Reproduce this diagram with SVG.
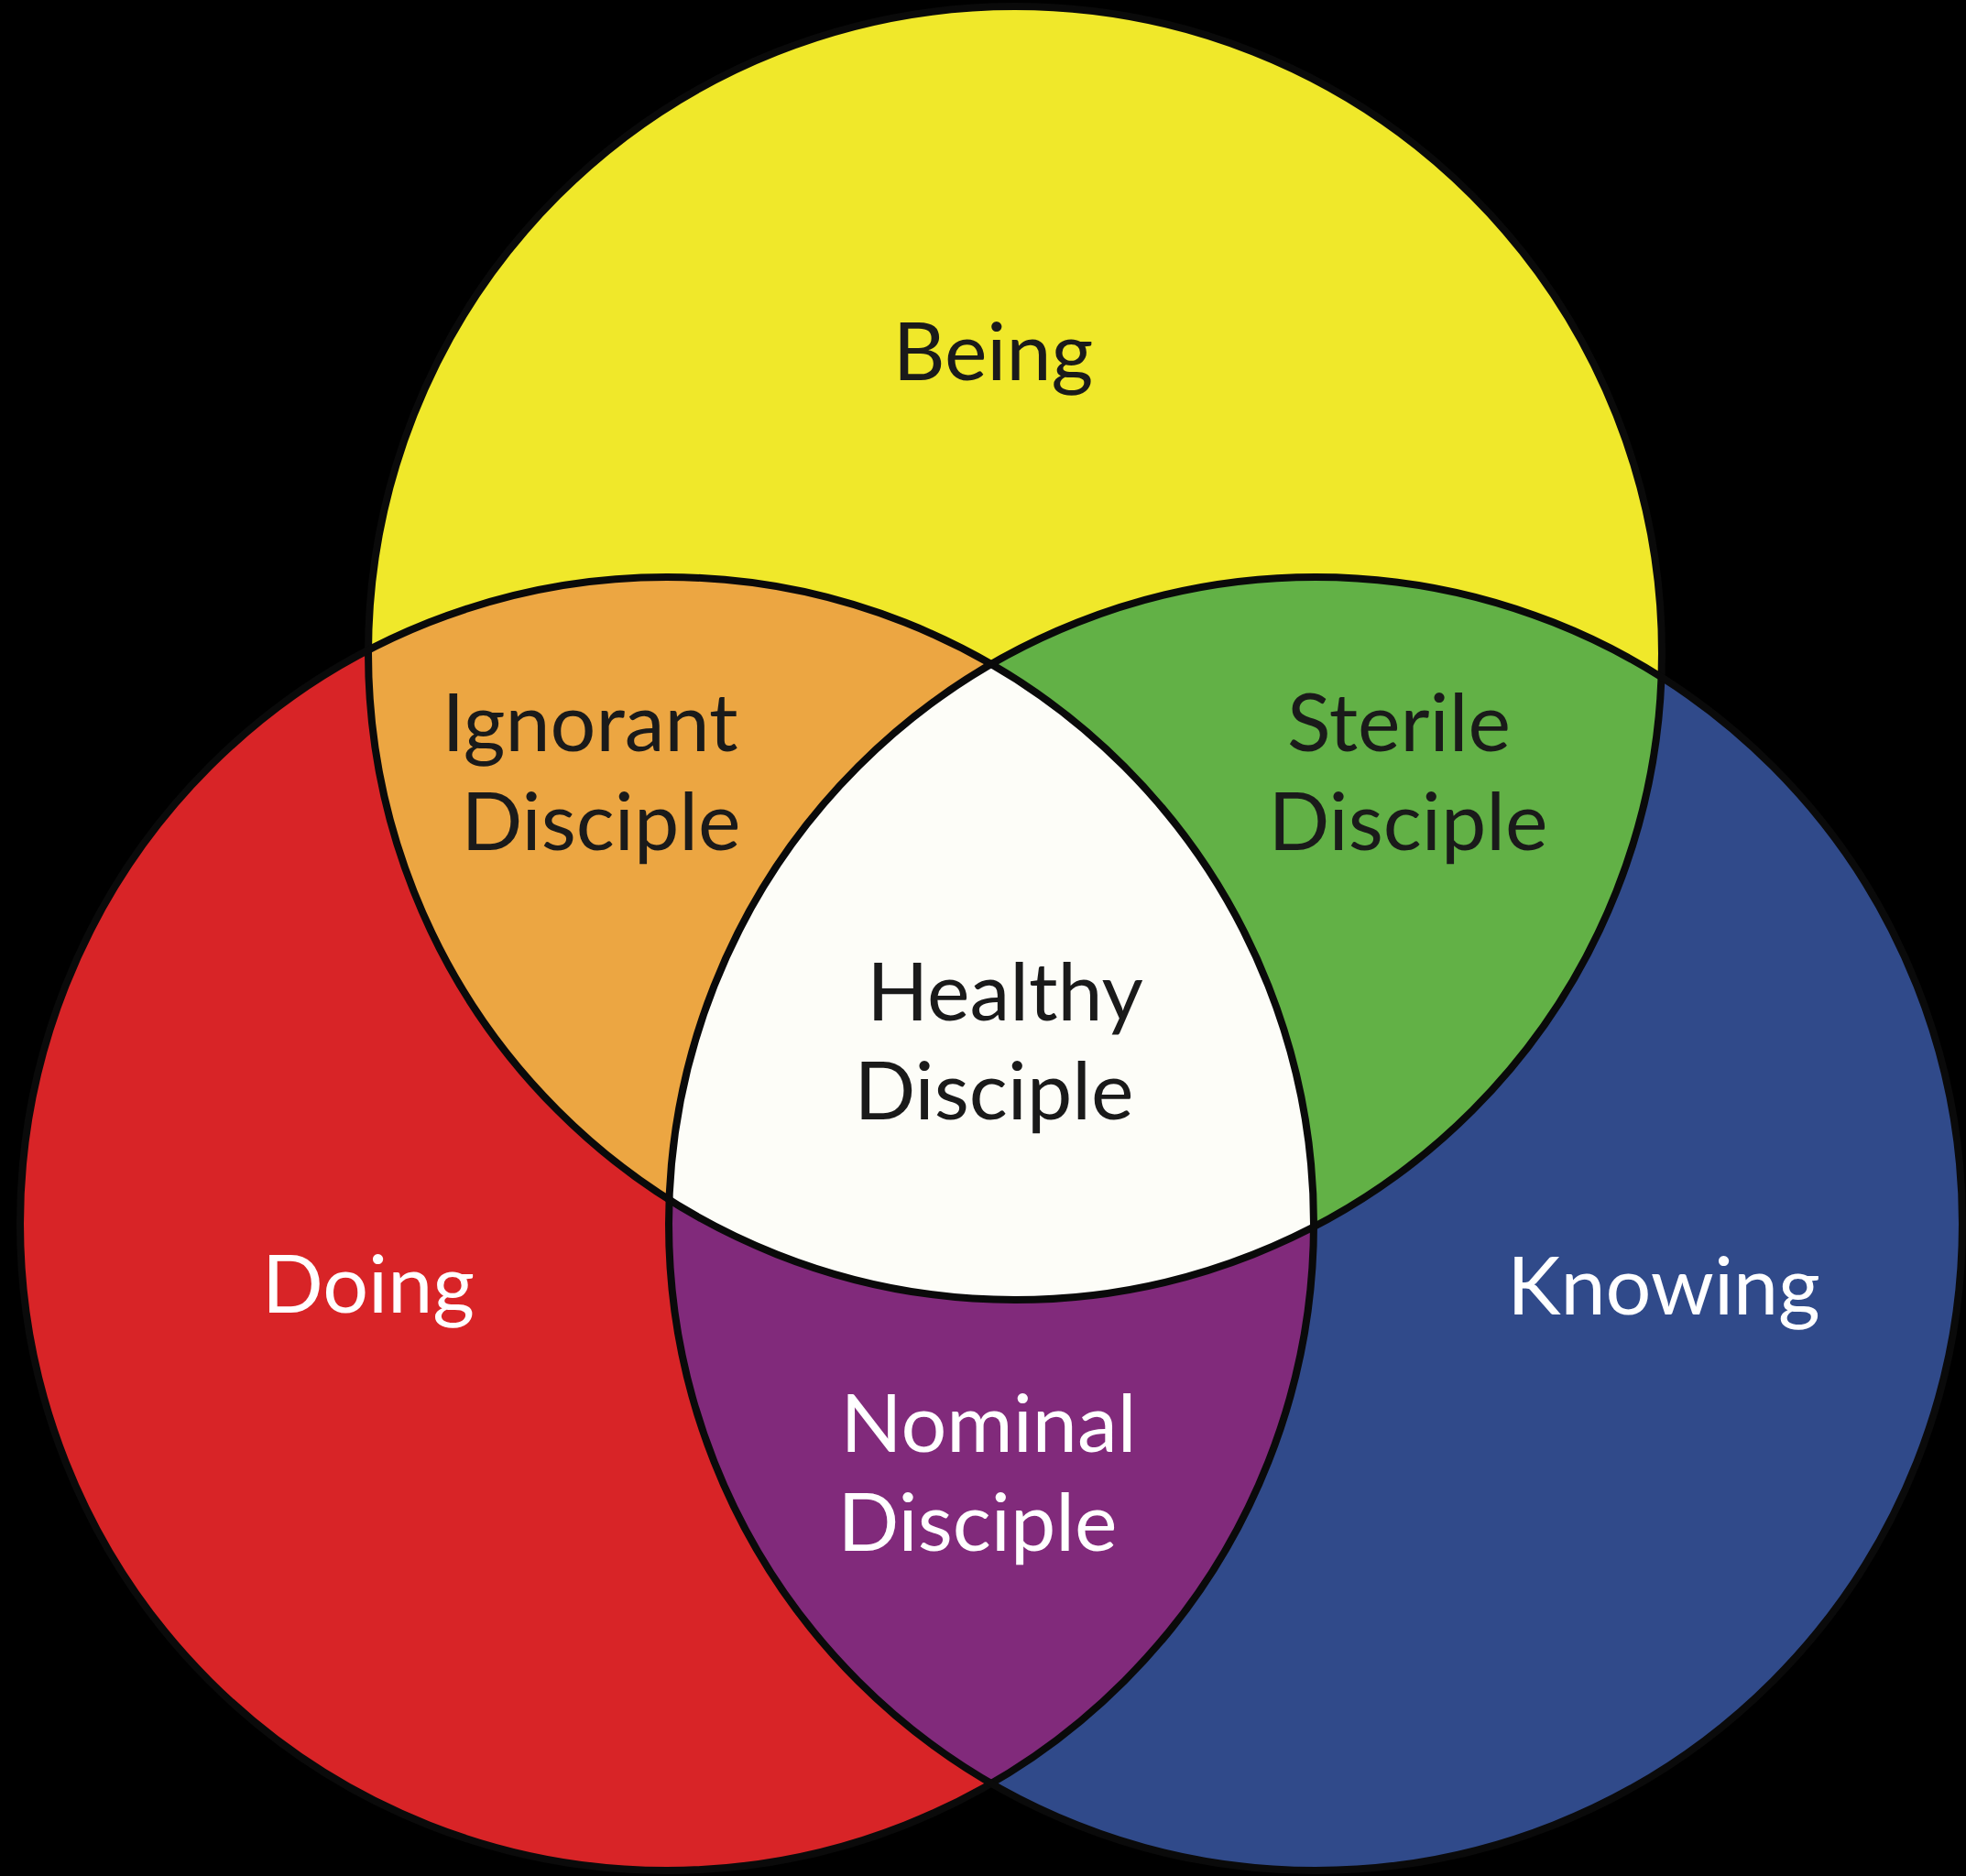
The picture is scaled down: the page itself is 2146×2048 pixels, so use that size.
<svg xmlns="http://www.w3.org/2000/svg" width="2146" height="2048" viewBox="0 0 2146 2048">
  <style>
    .lbl { font-family: Lato, "Open Sans", "Liberation Sans", sans-serif; font-size: 88px; text-anchor: middle; }
    .dark { fill: #1a1a1a; }
    .light { fill: #ffffff; }
    .ring { fill: none; stroke: #0a0a0a; stroke-width: 8; }
  </style>
  <defs>
    <circle id="cY" cx="1108" cy="713" r="706"/>
    <circle id="cR" cx="728" cy="1336" r="706"/>
    <circle id="cB" cx="1436" cy="1336" r="706"/>
    <clipPath id="clipY"><use href="#cY"/></clipPath>
    <clipPath id="clipR"><use href="#cR"/></clipPath>
    <clipPath id="clipB"><use href="#cB"/></clipPath>
  </defs>
  <rect x="0" y="0" width="2146" height="2048" fill="#000000"/>

  <g id="being">
    <use href="#cY" fill="#f0e82a"/>
  </g>
  <g id="doing">
    <use href="#cR" fill="#d82427"/>
  </g>
  <g id="knowing">
    <use href="#cB" fill="#304a8a"/>
  </g>
  <g id="ignorant-disciple">
    <use href="#cY" fill="#eca642" clip-path="url(#clipR)"/>
  </g>
  <g id="sterile-disciple">
    <use href="#cY" fill="#62b146" clip-path="url(#clipB)"/>
  </g>
  <g id="nominal-disciple">
    <use href="#cR" fill="#812a7b" clip-path="url(#clipB)"/>
  </g>
  <g id="healthy-disciple">
    <g clip-path="url(#clipY)">
      <use href="#cR" fill="#fdfdf8" clip-path="url(#clipB)"/>
    </g>
  </g>

  <g id="outlines">
    <use href="#cY" class="ring"/>
    <use href="#cR" class="ring"/>
    <use href="#cB" class="ring"/>
  </g>

  <g id="labels">
    <text class="lbl dark" x="1084" y="415">Being</text>
    <text class="lbl dark" x="644" y="820">Ignorant</text>
    <text class="lbl dark" x="656" y="928">Disciple</text>
    <text class="lbl dark" x="1527" y="820">Sterile</text>
    <text class="lbl dark" x="1537" y="928">Disciple</text>
    <text class="lbl dark" x="1097" y="1114">Healthy</text>
    <text class="lbl dark" x="1085" y="1222">Disciple</text>
    <text class="lbl light" x="402" y="1433">Doing</text>
    <text class="lbl light" x="1816" y="1435">Knowing</text>
    <text class="lbl light" x="1079" y="1585">Nominal</text>
    <text class="lbl light" x="1067" y="1693">Disciple</text>
  </g>
</svg>
